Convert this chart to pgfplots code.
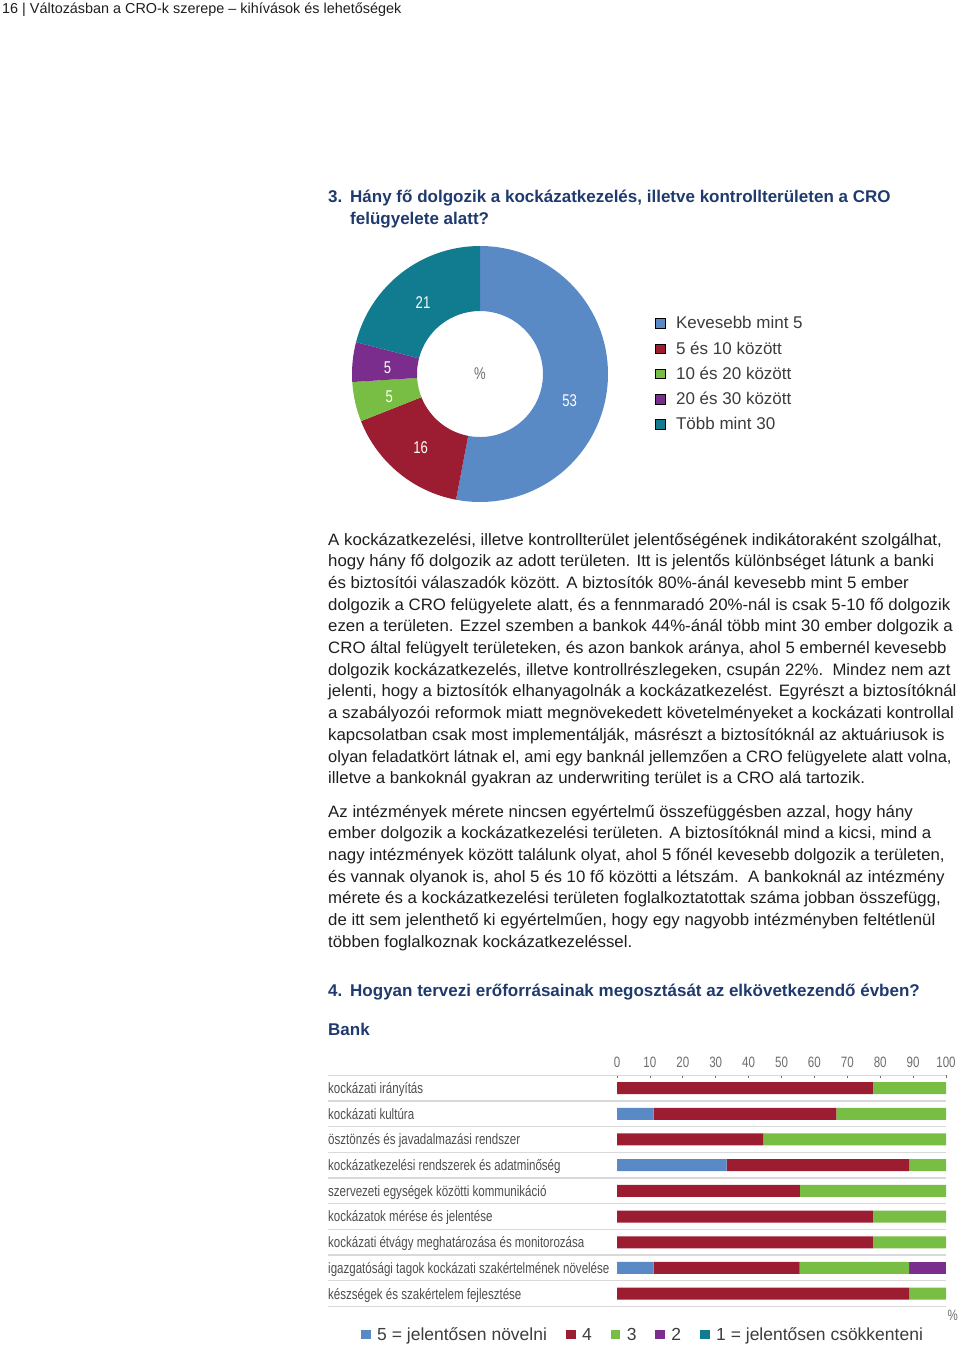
\documentclass[border=0pt]{standalone}
\usepackage{fontspec}
\usepackage{graphicx}
\setmainfont{Liberation Sans}
\newfontfamily\cond{Liberation Sans}[FakeStretch=0.77]
\newfontfamily\bodyf{Liberation Sans}[FakeStretch=1.02]
\usepackage{pgfplots}
\pgfplotsset{compat=1.18}
\usepackage{pgfplotstable}

\definecolor{navy}{HTML}{1F3A6E}
\definecolor{cblue}{HTML}{5A8AC6}
\definecolor{cred}{HTML}{9C1C31}
\definecolor{cgreen}{HTML}{78BE44}
\definecolor{cpurple}{HTML}{7A2D8C}
\definecolor{cteal}{HTML}{117C90}
\definecolor{bodytxt}{HTML}{1E1E1E}
\definecolor{legtxt}{HTML}{3C3C3C}
\definecolor{labtxt}{HTML}{4D4D4D}
\definecolor{ticktxt}{HTML}{6D6D6D}
\definecolor{sepgray}{HTML}{D9D9D9}

\pgfplotsset{sq/.style={legend image code/.code={\fill[##1] (0pt,-4.5pt) rectangle (9.5pt,5pt);}}}

% Bank: share of answers per area (%), rows from bottom (0) to top (8)
\pgfplotstableread{
row five four three two one
8 0 77.8 22.2 0 0
7 11.1 55.6 33.3 0 0
6 0 44.4 55.6 0 0
5 33.3 55.6 11.1 0 0
4 0 55.6 44.4 0 0
3 0 77.8 22.2 0 0
2 0 77.8 22.2 0 0
1 11.1 44.4 33.3 11.2 0
0 0 88.9 11.1 0 0
}\bankdata

% donut segment: [label angle offset], start (cumulative %), value (%), colour
\newcommand{\seg}[4][0]{%
  \fill[#4] (axis cs:0,0) ++({90-3.6*#2}:128pt)
    arc[start angle={90-3.6*#2}, delta angle={-3.6*#3}, radius=128pt]
    -- ++({270-3.6*(#2+#3)}:65pt)
    arc[start angle={90-3.6*(#2+#3)}, delta angle={3.6*#3}, radius=63pt] -- cycle;
  \node[text=white, font=\cond\fontsize{17}{20}\selectfont]
    at ([shift={({90-3.6*(#2+#3/2)+#1}:93pt)}, yshift=-2pt]axis cs:0,0) {#3};
}

\begin{document}
\begin{tikzpicture}
\path[use as bounding box] (0,0) rectangle (960pt,-1347pt);

\begin{scope}[x=1pt, y=-1pt,
  body/.style={anchor=base west, inner sep=0pt, font=\bodyf\fontsize{16.5}{20}\selectfont, text=bodytxt},
  hd/.style={anchor=base west, inner sep=0pt, font=\bfseries\fontsize{17}{21}\selectfont, text=navy}]
\node[anchor=base west, inner sep=0pt, font=\fontsize{14.4}{17}\selectfont, text=bodytxt] at (2,13)
  {16 | Változásban a CRO-k szerepe – kihívások és lehetőségek};

\node[hd] at (328,202) {3.};
\node[hd] at (350,202) {Hány fő dolgozik a kockázatkezelés, illetve kontrollterületen a CRO};
\node[hd] at (350,224) {felügyelete alatt?};

\node[body] at (328,545.0) {A kockázatkezelési, illetve kontrollterület jelentőségének indikátoraként szolgálhat,};
\node[body] at (328,566.7) {hogy hány fő dolgozik az adott területen. Itt is jelentős különbséget látunk a banki};
\node[body] at (328,588.4) {és biztosítói válaszadók között. A biztosítók 80\%-ánál kevesebb mint 5 ember};
\node[body] at (328,610.1) {dolgozik a CRO felügyelete alatt, és a fennmaradó 20\%-nál is csak 5-10 fő dolgozik};
\node[body] at (328,631.8) {ezen a területen. Ezzel szemben a bankok 44\%-ánál több mint 30 ember dolgozik a};
\node[body] at (328,653.5) {CRO által felügyelt területeken, és azon bankok aránya, ahol 5 embernél kevesebb};
\node[body] at (328,675.2) {\scalebox{0.993}[1]{dolgozik kockázatkezelés, illetve kontrollrészlegeken, csupán 22\%.\ \ Mindez nem azt}};
\node[body] at (328,696.9) {jelenti, hogy a biztosítók elhanyagolnák a kockázatkezelést. Egyrészt a biztosítóknál};
\node[body] at (328,718.6) {a szabályozói reformok miatt megnövekedett követelményeket a kockázati kontrollal};
\node[body] at (328,740.3) {kapcsolatban csak most implementálják, másrészt a biztosítóknál az aktuáriusok is};
\node[body] at (328,762.0) {\scalebox{0.98}[1]{olyan feladatkört látnak el, ami egy banknál jellemzően a CRO felügyelete alatt volna,}};
\node[body] at (328,783.7) {illetve a bankoknál gyakran az underwriting terület is a CRO alá tartozik.};

\node[body] at (328,817.0) {Az intézmények mérete nincsen egyértelmű összefüggésben azzal, hogy hány};
\node[body] at (328,838.7) {ember dolgozik a kockázatkezelési területen. A biztosítóknál mind a kicsi, mind a};
\node[body] at (328,860.4) {nagy intézmények között találunk olyat, ahol 5 főnél kevesebb dolgozik a területen,};
\node[body] at (328,882.1) {és vannak olyanok is, ahol 5 és 10 fő közötti a létszám.\ \ A bankoknál az intézmény};
\node[body] at (328,903.8) {mérete és a kockázatkezelési területen foglalkoztatottak száma jobban összefügg,};
\node[body] at (328,925.5) {de itt sem jelenthető ki egyértelműen, hogy egy nagyobb intézményben feltétlenül};
\node[body] at (328,947.2) {többen foglalkoznak kockázatkezeléssel.};

\node[hd] at (328,996) {4.};
\node[hd] at (350,996) {Hogyan tervezi erőforrásainak megosztását az elkövetkezendő évben?};
\node[hd] at (328,1035) {Bank};

\node[anchor=base east, inner sep=0pt, font=\cond\fontsize{15}{18}\selectfont, text=ticktxt] at (958,1320) {\%};
\end{scope}

% donut chart
\begin{axis}[at={(480pt,-374pt)}, anchor=center,
  x=1pt, y=1pt, xmin=-130, xmax=130, ymin=-130, ymax=130,
  hide axis, clip=false,
  legend cell align=left,
  legend style={at={(1.173,0.5)}, anchor=west, draw=none, fill=none, inner sep=0pt,
    row sep=11.25pt, font=\fontsize{17}{20}\selectfont, text=legtxt, nodes={inner sep=0pt},
    /tikz/every odd column/.append style={column sep=11pt}}]
\addlegendimage{sq, fill=cblue}\addlegendentry{Kevesebb mint 5}
\addlegendimage{sq, fill=cred}\addlegendentry{5 és 10 között}
\addlegendimage{sq, fill=cgreen}\addlegendentry{10 és 20 között}
\addlegendimage{sq, fill=cpurple}\addlegendentry{20 és 30 között}
\addlegendimage{sq, fill=cteal}\addlegendentry{Több mint 30}
\seg[-10]{0}{53}{cblue}
\seg{53}{16}{cred}
\seg{69}{5}{cgreen}
\seg{74}{5}{cpurple}
\seg{79}{21}{cteal}
\node[text=ticktxt, font=\cond\fontsize{17}{20}\selectfont] at (axis cs:0,0) {\%};
\end{axis}

% stacked bar chart
\begin{axis}[at={(617pt,-1306.5pt)}, anchor=south west,
  x=3.29pt, y=25.7pt, xmin=0, xmax=100, ymin=-0.5, ymax=8.5,
  xbar stacked, bar width=12pt, clip=false,
  axis x line*=top, axis y line*=left, axis line style={draw=none},
  xtick={0,10,...,100}, tick align=inside, major tick length=3pt,
  xtick style={ticktxt, line width=0.8pt},
  /pgf/number format/assume math mode=true,
  xticklabel style={font=\cond\fontsize{15}{18}\selectfont, text=ticktxt, inner sep=0pt, yshift=7pt},
  ytick={0,...,8}, ytick style={draw=none},
  yticklabels={készségek és szakértelem fejlesztése,
    igazgatósági tagok kockázati szakértelmének növelése,
    kockázati étvágy meghatározása és monitorozása,
    kockázatok mérése és jelentése,
    szervezeti egységek közötti kommunikáció,
    kockázatkezelési rendszerek és adatminőség,
    ösztönzés és javadalmazási rendszer,
    kockázati kultúra,
    kockázati irányítás},
  yticklabel style={anchor=west, xshift=-289pt, inner sep=0pt, text height=10.7pt, text depth=0pt,
    font=\cond\fontsize{15}{18}\selectfont, text=labtxt},
  legend columns=-1,
  legend style={at={(-0.778,-0.123)}, anchor=west, draw=none, fill=none, inner sep=0pt,
    font=\fontsize{17.5}{20}\selectfont, text=legtxt, nodes={inner sep=0pt},
    /tikz/every odd column/.append style={column sep=6.5pt},
    /tikz/every even column/.append style={column sep=19pt}}]
\pgfplotsinvokeforeach{-0.5,0.5,1.5,2.5,3.5,4.5,5.5,6.5,7.5,8.5}{
  \draw[sepgray, line width=1.3pt] ([xshift=-289pt]axis cs:0,#1) -- (axis cs:100,#1);
}
\addplot[fill=cblue, draw=none, sq] table[x=five, y=row] {\bankdata};
\addlegendentry{5 = jelentősen növelni}
\addplot[fill=cred, draw=none, sq] table[x=four, y=row] {\bankdata};
\addlegendentry{4}
\addplot[fill=cgreen, draw=none, sq] table[x=three, y=row] {\bankdata};
\addlegendentry{3}
\addplot[fill=cpurple, draw=none, sq] table[x=two, y=row] {\bankdata};
\addlegendentry{2}
\addplot[fill=cteal, draw=none, sq] table[x=one, y=row] {\bankdata};
\addlegendentry{1 = jelentősen csökkenteni}
\end{axis}
\end{tikzpicture}
\end{document}
